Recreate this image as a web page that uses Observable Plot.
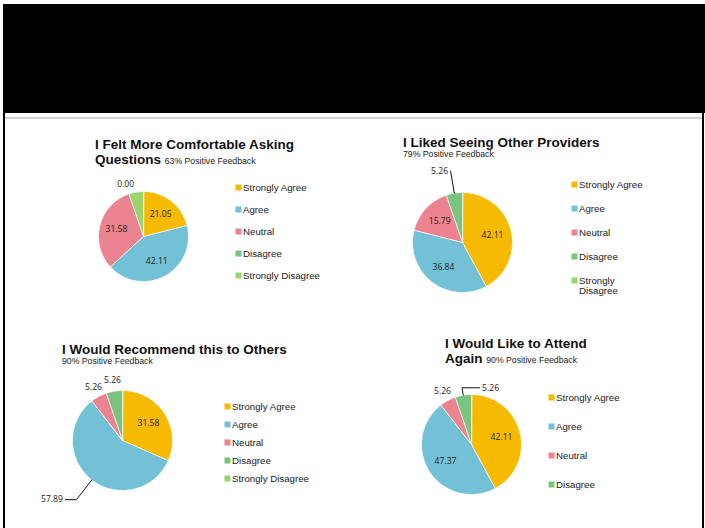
<!DOCTYPE html>
<html><head><meta charset="utf-8">
<script src="https://cdn.jsdelivr.net/npm/d3@7"></script>
<script src="https://cdn.jsdelivr.net/npm/@observablehq/plot@0.6"></script>
<style>
body{margin:0;background:#fff;}
#page{position:relative;width:705px;height:528px;overflow:hidden;font-family:"Liberation Sans",Arial,sans-serif;background:#fff;}
.abs{position:absolute;}
.title{font-weight:bold;font-size:13.5px;color:#111;line-height:15px;white-space:nowrap;}
.sub{font-weight:normal;font-size:8.7px;color:#222;}
.subblock{font-weight:normal;font-size:8.7px;color:#222;line-height:9.5px;}
</style></head><body><div id="page"></div>
<script>
// ---- data ----
const categories = ["Strongly Agree", "Agree", "Neutral", "Disagree", "Strongly Disagree"];
const colors = ["#F6BA00", "#72C1D6", "#EB8390", "#7BC47F", "#9BD46A"];

const titles = ["I Felt More Comfortable Asking\nQuestions", "I Liked Seeing Other Providers", "I Would Recommend this to Others", "I Would Like to Attend\nAgain"];
const subtitles = ["63% Positive Feedback", "79% Positive Feedback", "90% Positive Feedback", "90% Positive Feedback"];

const values1 = [21.05, 42.11, 31.58, 0.00, 5.26];
const values2 = [42.11, 36.84, 15.79, 5.26, 0.00];
const values3 = [31.58, 57.89, 5.26, 5.26, 0.00];
const values4 = [42.11, 47.37, 5.26, 5.26, 0.00];

const labelled1 = ["Strongly Agree", "Agree", "Neutral", "Disagree"];
const labelled2 = ["Strongly Agree", "Agree", "Neutral", "Disagree"];
const labelled3 = ["Strongly Agree", "Agree", "Neutral", "Disagree"];
const labelled4 = ["Strongly Agree", "Agree", "Neutral", "Disagree"];

const legendNames1 = ["Strongly Agree", "Agree", "Neutral", "Disagree", "Strongly Disagree"];
const legendNames2 = ["Strongly Agree", "Agree", "Neutral", "Disagree", "Strongly\nDisagree"];
const legendNames3 = ["Strongly Agree", "Agree", "Neutral", "Disagree", "Strongly Disagree"];
const legendNames4 = ["Strongly Agree", "Agree", "Neutral", "Disagree"];

// ---- layout ----
const layout = [
  {values: values1, labelled: labelled1, legend: legendNames1, cx: 143, cy: 236, r: 45,
   tx: 95, ty: 137, inlineSub: true, lx: 238, ly0: 185.5, ldy: 22.5, leaders: {}},
  {values: values2, labelled: labelled2, legend: legendNames2, cx: 462, cy: 242, r: 50,
   tx: 403, ty: 135, inlineSub: false, lx: 574, ly0: 184, ldy: 24,
   leaders: {"Disagree": {f: 1.45, side: -1, len: 0}}},
  {values: values3, labelled: labelled3, legend: legendNames3, cx: 122, cy: 440, r: 50,
   tx: 62, ty: 342, inlineSub: false, lx: 227, ly0: 404, ldy: 18.75,
   leaders: {"Agree": {f: 1.5, side: -1, len: 0.22}}},
  {values: values4, labelled: labelled4, legend: legendNames4, cx: 471, cy: 444, r: 50,
   tx: 445, ty: 336, inlineSub: true, lx: 551, ly0: 397, ldy: 29,
   leaders: {"Disagree": {f: 1.15, side: 1, len: 0.35}}}
];

const page = document.getElementById("page");
function addDiv(style, cls, html) {
  const d = document.createElement("div");
  d.className = "abs " + (cls || "");
  Object.assign(d.style, style);
  if (html != null) d.innerHTML = html;
  page.appendChild(d);
  return d;
}
// header + frame
addDiv({left: "3px", top: "4px", width: "702px", height: "109px", background: "#000"});
addDiv({left: "3px", top: "113px", width: "2px", height: "415px", background: "#000"});
addDiv({left: "702px", top: "113px", width: "2px", height: "415px", background: "#000"});
addDiv({left: "5px", top: "116.5px", width: "697px", height: "2px", background: "#cfcfcf"});

const fmt = d3.format(".2f");
const S = 260;

layout.forEach((p, idx) => {
  // title
  const lines = titles[idx].split("\n");
  let html;
  if (p.inlineSub) {
    html = lines.slice(0, -1).join("<br>") + "<br>" + lines[lines.length - 1] + ' <span class="sub">' + subtitles[idx] + "</span>";
  } else {
    html = lines.join("<br>") + '<div class="subblock">' + subtitles[idx] + "</div>";
  }
  addDiv({left: p.tx + "px", top: p.ty + "px"}, "title", html);

  // slices
  const total = d3.sum(p.values);
  let acc = 0;
  const slices = categories.map((c, i) => {
    const a0 = acc / total * 2 * Math.PI; acc += p.values[i];
    const a1 = acc / total * 2 * Math.PI;
    return {category: c, value: p.values[i], a0, a1, mid: (a0 + a1) / 2};
  });
  const poly = [];
  slices.filter(s => s.value > 0).forEach(s => {
    poly.push({category: s.category, x: 0, y: 0});
    const n = Math.max(2, Math.ceil((s.a1 - s.a0) / (Math.PI / 180)));
    for (let k = 0; k <= n; k++) {
      const a = s.a0 + (s.a1 - s.a0) * k / n;
      poly.push({category: s.category, x: Math.sin(a), y: Math.cos(a)});
    }
  });
  const labels = [], leaderPts = [];
  slices.filter(s => p.labelled.includes(s.category)).forEach(s => {
    const L = p.leaders[s.category];
    const sx = Math.sin(s.mid), sy = Math.cos(s.mid);
    if (L) {
      const ex = sx * L.f, ey = sy * L.f;
      const hx = ex + L.side * L.len;
      leaderPts.push({category: s.category, x: sx, y: sy});
      leaderPts.push({category: s.category, x: ex, y: ey});
      if (L.len > 0) leaderPts.push({category: s.category, x: hx, y: ey});
      labels.push({text: fmt(s.value), x: hx + L.side * 0.05, y: ey, anchor: L.side < 0 ? "end" : "start"});
    } else if (s.value >= 10) {
      labels.push({text: fmt(s.value), x: sx * 0.62, y: sy * 0.62, anchor: "middle"});
    } else {
      labels.push({text: fmt(s.value), x: sx * 1.22, y: sy * 1.22, anchor: "middle"});
    }
  });
  const k = S / 2 / p.r;
  const labelFont = {fontSize: 8.6, fontFamily: "'Open Sans', sans-serif", fill: "#222"};
  const pie = Plot.plot({
    width: S, height: S, margin: 0,
    x: {domain: [-k, k], axis: null},
    y: {domain: [-k, k], axis: null},
    color: {type: "ordinal", domain: categories, range: colors},
    style: {background: "none", overflow: "visible"},
    marks: [
      Plot.line(poly, {x: "x", y: "y", z: "category", fill: "category", stroke: "white", strokeWidth: 0.8, curve: "linear-closed"}),
      Plot.line(leaderPts, {x: "x", y: "y", z: "category", stroke: "#111", strokeWidth: 1}),
      ...["start", "middle", "end"].map(a => Plot.text(labels.filter(l => l.anchor === a), {x: "x", y: "y", text: "text", textAnchor: a, ...labelFont}))
    ]
  });
  pie.style.position = "absolute";
  pie.style.left = (p.cx - S / 2) + "px";
  pie.style.top = (p.cy - S / 2) + "px";
  page.appendChild(pie);

  // legend
  const n = p.legend.length;
  const leg = categories.slice(0, n).map((c, i) => ({category: c, name: p.legend[i]}));
  const LW = 150, pad = 12;
  const legend = Plot.plot({
    width: LW, height: (n - 1) * p.ldy + 2 * pad + 12, margin: 0,
    x: {domain: [0, 1], range: [pad, LW], axis: null},
    y: {type: "point", domain: categories.slice(0, n), range: [pad, pad + (n - 1) * p.ldy], padding: 0, axis: null},
    color: {type: "ordinal", domain: categories, range: colors},
    style: {background: "none", overflow: "visible"},
    marks: [
      Plot.dot(leg, {x: () => 0, y: "category", fill: "category", symbol: "square", r: 3.4}),
      Plot.text(leg, {x: () => 0, y: "category", text: "name", dx: 4.5, dy: -3.5, textAnchor: "start", lineAnchor: "top", lineHeight: 1.05,
        fontSize: 9.7, fontFamily: "'Liberation Sans', Arial, sans-serif", fill: "#222"})
    ]
  });
  legend.style.position = "absolute";
  legend.style.left = (p.lx - pad) + "px";
  legend.style.top = (p.ly0 - pad) + "px";
  page.appendChild(legend);
});
</script>
</body></html>
